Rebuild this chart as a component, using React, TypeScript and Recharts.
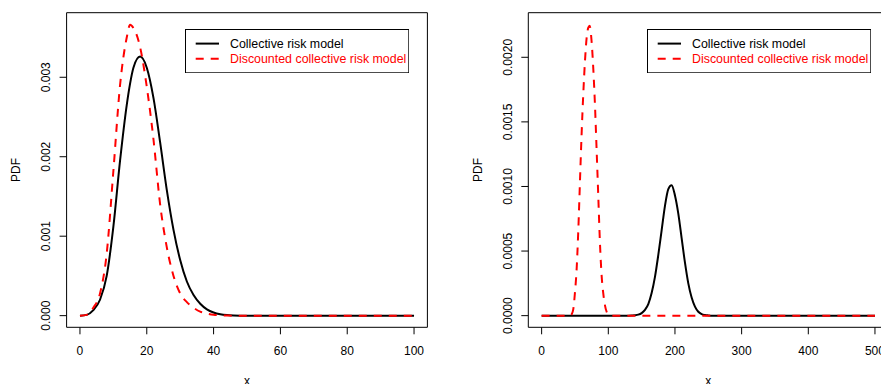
import React from 'react';
import { LineChart, Line, XAxis, YAxis, ReferenceArea, Legend } from 'recharts';

const FONT = '"Liberation Sans", Arial, Helvetica, sans-serif';

// ---------- Left panel ----------
const xLeft = [0, 2, 4, 6, 8, 10, 12, 14, 15, 16, 18, 20, 22, 24, 26, 28, 30, 32, 34, 36, 38, 40, 42, 44, 46, 48, 50, 60, 70, 80, 90, 100];
const collectiveLeft = [0, 0.00001, 0.00007, 0.0002, 0.0005, 0.00112, 0.00195, 0.00265, 0.00292, 0.00312, 0.00326, 0.00312, 0.00274, 0.00218, 0.00158, 0.00108, 0.0007, 0.00043, 0.00026, 0.00015, 0.00008, 0.00004, 0.000018, 0.000007, 0.000002, 0, 0, 0, 0, 0, 0, 0];
const discountedLeft = [0, 0.00001, 0.0001, 0.00028, 0.00078, 0.00182, 0.0029, 0.0035, 0.00366, 0.00362, 0.00338, 0.00288, 0.00222, 0.0014, 0.00086, 0.0005, 0.00028, 0.00017, 0.0001, 0.00005, 0.000025, 0.00001, 0.000005, 0.000002, 0, 0, 0, 0, 0, 0, 0, 0];
const xTicksLeft = [0, 20, 40, 60, 80, 100];
const yTicksLeft = [0, 0.001, 0.002, 0.003];
const yLabelsLeft = ['0.000', '0.001', '0.002', '0.003'];

// ---------- Right panel ----------
const xRight = [0, 20, 40, 42.5, 45, 47.5, 50, 52.5, 55, 57.5, 60, 62.5, 65, 67.5, 70, 72, 75, 77.5, 80, 82.5, 85, 87.5, 90, 92.5, 95, 97.5, 100, 102.5, 110, 120, 130, 135, 140, 145, 150, 155, 160, 165, 170, 175, 180, 185, 190, 195, 200, 205, 210, 215, 220, 225, 230, 235, 240, 245, 250, 255, 260, 300, 400, 500];
const collectiveRight = [0, 0, 0, 0, 0, 0, 0, 0, 0, 0, 0, 0, 0, 0, 0, 0, 0, 0, 0, 0, 0, 0, 0, 0, 0, 0, 0, 0, 0, 0, 0, 0.000001, 0.000003, 0.000008, 0.00002, 0.000045, 0.00009, 0.000175, 0.0003, 0.00047, 0.00066, 0.00085, 0.00098, 0.00101, 0.00093, 0.00079, 0.0006, 0.00041, 0.00025, 0.00014, 0.00007, 0.00003, 0.000012, 0.000005, 0.000002, 0, 0, 0, 0, 0];
const discountedRight = [0, 0, 0, 0, 0.00001, 0.00005, 0.00018, 0.00036, 0.00066, 0.00104, 0.00141, 0.00172, 0.00197, 0.00215, 0.00223, 0.002245, 0.00212, 0.00191, 0.00163, 0.00128, 0.00092, 0.00056, 0.00031, 0.00017, 0.00008, 0.00003, 0.00001, 0, 0, 0, 0, 0, 0, 0, 0, 0, 0, 0, 0, 0, 0, 0, 0, 0, 0, 0, 0, 0, 0, 0, 0, 0, 0, 0, 0, 0, 0, 0, 0, 0];
const xTicksRight = [0, 100, 200, 300, 400, 500];
const yTicksRight = [0, 0.0005, 0.001, 0.0015, 0.002];
const yLabelsRight = ['0.0000', '0.0005', '0.0010', '0.0015', '0.0020'];

const seriesNames = ['Collective risk model', 'Discounted collective risk model'];
const xTitle = 'x';
const yTitle = 'PDF';

const buildData = (xs: number[], a: number[], b: number[]) =>
  xs.map((x, i) => ({ x, collective: a[i], discounted: b[i] }));

const leftData = buildData(xLeft, collectiveLeft, discountedLeft);
const rightData = buildData(xRight, collectiveRight, discountedRight);

const LegendBox = () => {
  const w = 224.3;
  const h = 44.3;
  return (
    <svg width={w} height={h} style={{ display: 'block' }}>
      <rect x={0.5} y={0.5} width={w - 1} height={h - 1} fill="#fff" stroke="#000" strokeWidth={1} />
      <line x1={10.7} x2={34} y1={14.6} y2={14.6} stroke="#000" strokeWidth={2} />
      <text x={45} y={19} fontSize={12.4} fontFamily={FONT} fill="#000">{seriesNames[0]}</text>
      <line x1={10.7} x2={34} y1={29.8} y2={29.8} stroke="#ff0000" strokeWidth={2} strokeDasharray="8 7" />
      <text x={45} y={34.2} fontSize={12.4} fontFamily={FONT} fill="#ff0000">{seriesNames[1]}</text>
    </svg>
  );
};

type PanelProps = {
  data: any[];
  width: number;
  marginLeft: number;
  marginRight: number;
  xDomain: [number, number];
  xTicks: number[];
  yDomain: [number, number];
  yTicks: number[];
  yLabels: string[];
  yLabelX: number;
  pdfX: number;
  xTitleX: number;
  legendLeft: number;
};

const Panel = (p: PanelProps) => {
  const XTick = (props: any) => (
    <text x={props.x} y={355} textAnchor="middle" fontSize={12} fontFamily={FONT} fill="#000">
      {props.payload.value}
    </text>
  );
  const YTick = (props: any) => {
    const idx = p.yTicks.indexOf(props.payload.value);
    const y = props.y;
    return (
      <text
        x={p.yLabelX}
        y={y}
        transform={`rotate(-90 ${p.yLabelX} ${y})`}
        textAnchor="middle"
        fontSize={12}
        fontFamily={FONT}
        fill="#000"
      >
        {idx >= 0 ? p.yLabels[idx] : ''}
      </text>
    );
  };
  return (
    <LineChart
      width={p.width}
      height={384}
      data={p.data}
      margin={{ top: 12.7, right: p.marginRight, bottom: 26.7, left: p.marginLeft }}
    >
      <XAxis
        dataKey="x"
        type="number"
        domain={p.xDomain}
        ticks={p.xTicks}
        allowDataOverflow
        axisLine={false}
        tickSize={7}
        tickLine={{ stroke: '#000' }}
        tick={XTick}
        height={30}
        interval={0}
        label={{
          content: () => (
            <text x={p.xTitleX} y={385} textAnchor="middle" fontSize={12} fontFamily={FONT} fill="#000">
              {xTitle}
            </text>
          ),
        }}
      />
      <YAxis
        type="number"
        domain={p.yDomain}
        ticks={p.yTicks}
        allowDataOverflow
        axisLine={false}
        tickSize={7}
        tickLine={{ stroke: '#000' }}
        tick={YTick}
        width={60}
        interval={0}
        label={{
          content: () => (
            <text
              x={p.pdfX}
              y={170}
              transform={`rotate(-90 ${p.pdfX} 170)`}
              textAnchor="middle"
              fontSize={12}
              fontFamily={FONT}
              fill="#000"
            >
              {yTitle}
            </text>
          ),
        }}
      />
      <ReferenceArea
        x1={p.xDomain[0]}
        x2={p.xDomain[1]}
        y1={p.yDomain[0]}
        y2={p.yDomain[1]}
        fill="none"
        stroke="#000"
        strokeWidth={1}
        ifOverflow="visible"
      />
      <Line
        type="monotone"
        dataKey="collective"
        name={seriesNames[0]}
        stroke="#000"
        strokeWidth={2}
        dot={false}
        activeDot={false}
        isAnimationActive={false}
      />
      <Line
        type="monotone"
        dataKey="discounted"
        name={seriesNames[1]}
        stroke="#ff0000"
        strokeWidth={2}
        strokeDasharray="8 7"
        dot={false}
        activeDot={false}
        isAnimationActive={false}
      />
      <Legend
        layout="horizontal"
        verticalAlign="middle"
        align="center"
        wrapperStyle={{ left: p.legendLeft, top: 28.7, width: 224.3, height: 44.3 }}
        content={() => <LegendBox />}
      />
    </LineChart>
  );
};

export default function App() {
  return (
    <div
      style={{
        position: 'absolute',
        left: 0,
        top: 0,
        width: 881,
        height: 384,
        overflow: 'hidden',
        background: '#fff',
      }}
    >
      <div style={{ position: 'absolute', left: 0, top: 0 }}>
        <Panel
          data={leftData}
          width={440}
          marginLeft={6.6}
          marginRight={12.6}
          xDomain={[-4, 104]}
          xTicks={xTicksLeft}
          yDomain={[-0.0001466, 0.0038126]}
          yTicks={yTicksLeft}
          yLabels={yLabelsLeft}
          yLabelX={50}
          pdfX={19.5}
          xTitleX={247}
          legendLeft={185}
        />
      </div>
      <div style={{ position: 'absolute', left: 440, top: 0 }}>
        <Panel
          data={rightData}
          width={460}
          marginLeft={28.3}
          marginRight={11.7}
          xDomain={[-20, 520]}
          xTicks={xTicksRight}
          yDomain={[-0.0000902, 0.0023452]}
          yTicks={yTicksRight}
          yLabels={yLabelsRight}
          yLabelX={71.7}
          pdfX={41.5}
          xTitleX={268.3}
          legendLeft={206.7}
        />
      </div>
    </div>
  );
}
